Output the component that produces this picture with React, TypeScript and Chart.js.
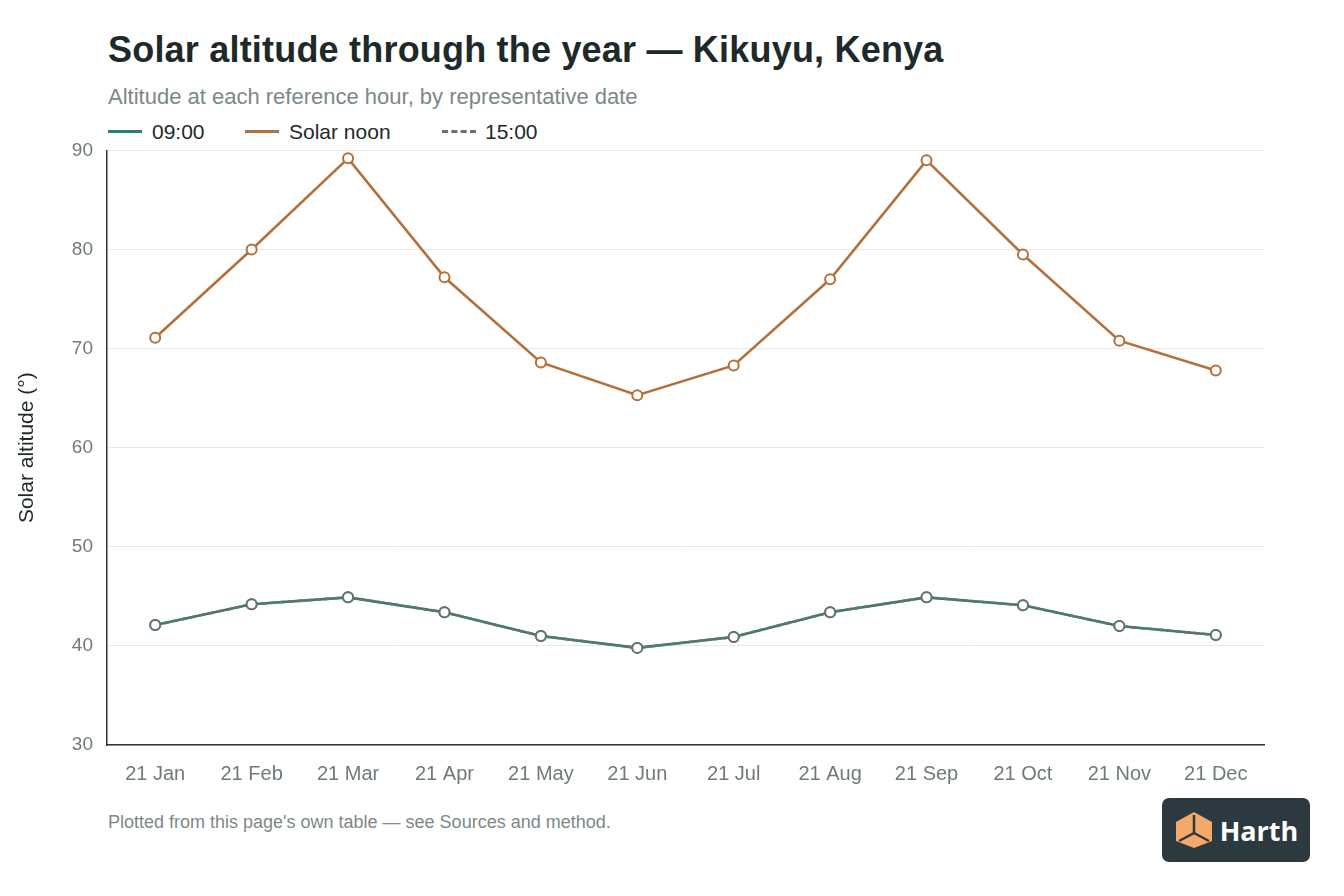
import React, { useEffect, useRef } from 'react';
import Chart from 'chart.js/auto';

const dates = ['21 Jan', '21 Feb', '21 Mar', '21 Apr', '21 May', '21 Jun', '21 Jul', '21 Aug', '21 Sep', '21 Oct', '21 Nov', '21 Dec'];
const morning = [42.1, 44.2, 44.9, 43.4, 41.0, 39.8, 40.9, 43.4, 44.9, 44.1, 42.0, 41.1];
const solarNoon = [71.1, 80.0, 89.2, 77.2, 68.6, 65.3, 68.3, 77.0, 89.0, 79.5, 70.8, 67.8];
const afternoon = [42.1, 44.2, 44.9, 43.4, 41.0, 39.8, 40.9, 43.4, 44.9, 44.1, 42.0, 41.1];

const TEAL = '#2a7d78';
const ORANGE = '#b4703b';
const GRAY = '#66736f';
const FONT = '"Liberation Sans", Arial, sans-serif';

const App: React.FC = () => {
  const chartRef = useRef<HTMLCanvasElement>(null);
  const chartInstance = useRef<Chart | null>(null);

  useEffect(() => {
    if (!chartRef.current) return;
    const ctx = chartRef.current.getContext('2d');
    if (!ctx) return;

    const point = (color: string) => ({
      pointRadius: 5,
      pointHoverRadius: 5,
      pointBackgroundColor: '#ffffff',
      pointBorderColor: color,
      pointBorderWidth: 2,
    });

    chartInstance.current = new Chart(ctx, {
      type: 'line',
      data: {
        labels: dates,
        datasets: [
          { label: '09:00', data: morning, order: 2, borderColor: TEAL, borderWidth: 2.6, ...point(TEAL) },
          { label: 'Solar noon', data: solarNoon, order: 1, borderColor: ORANGE, borderWidth: 2.6, ...point(ORANGE) },
          { label: '15:00', data: afternoon, order: 0, borderColor: GRAY, borderWidth: 2.6, borderDash: [6, 3], ...point(GRAY) },
        ],
      },
      options: {
        animation: false,
        responsive: false,
        maintainAspectRatio: false,
        layout: { padding: { top: 0, right: 26, left: 0, bottom: 0 } },
        plugins: { legend: { display: false }, tooltip: { enabled: false } },
        scales: {
          x: {
            offset: true,
            grid: { display: false, drawTicks: false },
            border: { display: true, color: '#2e3535', width: 1.5 },
            ticks: { color: '#6f7b79', font: { family: FONT, size: 20 }, padding: 17, maxRotation: 0 },
            afterFit: (s: any) => { s.height = 55; },
          },
          y: {
            min: 30,
            max: 90,
            grid: { color: '#e7e9e9', drawTicks: false },
            border: { display: true, color: '#2e3535', width: 1.5 },
            ticks: { stepSize: 10, color: '#6f7b79', font: { family: FONT, size: 19 }, padding: 14 },
            title: {
              display: true,
              text: 'Solar altitude (°)',
              color: '#1f2a29',
              font: { family: FONT, size: 21 },
              padding: { top: 15, bottom: 0 },
            },
            afterFit: (s: any) => { s.width = 107; },
          },
        },
      },
    });

    return () => {
      if (chartInstance.current) {
        chartInstance.current.destroy();
        chartInstance.current = null;
      }
    };
  }, []);

  const legendItem = (label: string, color: string, dashed: boolean, width: number) => (
    <div style={{ display: 'flex', alignItems: 'center', width }}>
      <span style={{ display: 'inline-block', width: 34, borderTop: `3px ${dashed ? 'dashed' : 'solid'} ${color}`, marginRight: dashed ? 9 : 10 }} />
      <span>{label}</span>
    </div>
  );

  return (
    <div style={{ position: 'fixed', left: 0, top: 0, width: 1344, height: 896, background: '#ffffff', fontFamily: FONT, overflow: 'hidden' }}>
      <div style={{ position: 'absolute', left: 108, top: 32, fontSize: 36, lineHeight: 1, fontWeight: 700, color: '#1d2a29', letterSpacing: 0.2 }}>
        Solar altitude through the year — Kikuyu, Kenya
      </div>
      <div style={{ position: 'absolute', left: 108, top: 86, fontSize: 22, lineHeight: 1, color: '#7b8987' }}>
        Altitude at each reference hour, by representative date
      </div>
      <div style={{ position: 'absolute', left: 108, top: 121, fontSize: 21, lineHeight: 1, color: '#222a2a', display: 'flex' }}>
        {legendItem('09:00', TEAL, false, 137)}
        {legendItem('Solar noon', ORANGE, false, 197)}
        {legendItem('15:00', GRAY, true, 130)}
      </div>
      <canvas ref={chartRef} width={1290} height={675} style={{ position: 'absolute', left: 0, top: 125, width: 1290, height: 675 }} />
      <div style={{ position: 'absolute', left: 108, top: 813, fontSize: 18, lineHeight: 1, color: '#7b8987' }}>
        Plotted from this page's own table — see Sources and method.
      </div>
      <div style={{ position: 'absolute', left: 1162, top: 798, width: 148, height: 64, borderRadius: 7, background: '#2c3940', display: 'flex', alignItems: 'center', justifyContent: 'center' }}>
        <svg width="40" height="38" viewBox="0 0 40 38" style={{ marginRight: 6 }}>
          <polygon points="20,1 38,11 38,30 20,37 2,30 2,11" fill="#f4a96a" />
          <polyline points="20,4 20,22 5,30" fill="none" stroke="#2c3940" strokeWidth="2.5" />
          <line x1="20" y1="22" x2="35" y2="30" stroke="#2c3940" strokeWidth="2.5" />
        </svg>
        <span style={{ color: '#ffffff', fontSize: 27, fontWeight: 700, fontFamily: '"Open Sans", sans-serif' }}>Harth</span>
      </div>
    </div>
  );
};

export default App;
